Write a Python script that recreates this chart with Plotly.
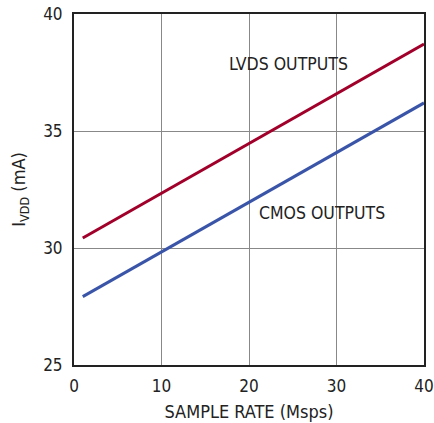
import plotly.graph_objects as go

sample_rate = [1, 40]
lvds_ivdd = [30.43, 38.72]
cmos_ivdd = [27.92, 36.2]

x_ticks = [0, 10, 20, 30, 40]
y_ticks = [25, 30, 35, 40]

FONT = "DejaVu Sans Condensed, Liberation Sans Narrow, Arial Narrow, sans-serif"

fig = go.Figure()
fig.add_trace(go.Scatter(x=sample_rate, y=lvds_ivdd, mode="lines",
                         line=dict(color="#a0002a", width=3), showlegend=False,
                         hoverinfo="skip"))
fig.add_trace(go.Scatter(x=sample_rate, y=cmos_ivdd, mode="lines",
                         line=dict(color="#3a55a8", width=3), showlegend=False,
                         hoverinfo="skip"))

fig.add_annotation(x=24.46, y=37.86, text="LVDS OUTPUTS", showarrow=False,
                   font=dict(size=17.5, color="#222"), xanchor="center", yanchor="middle")
fig.add_annotation(x=28.3, y=31.5, text="CMOS OUTPUTS", showarrow=False,
                   font=dict(size=17.5, color="#222"), xanchor="center", yanchor="middle")

fig.update_layout(
    width=434, height=423,
    margin=dict(l=74, r=10, t=14, b=58),
    plot_bgcolor="white", paper_bgcolor="white",
    font=dict(family=FONT, size=17, color="#222"),
    xaxis=dict(range=[0, 40], tickvals=x_ticks, showgrid=True, gridcolor="#888",
               gridwidth=1, zeroline=False, showline=True, linecolor="#222",
               linewidth=2, mirror=True, ticks="outside", ticklen=5,
               tickcolor="rgba(0,0,0,0)", automargin=False,
               ticklabeloverflow="allow",
               title=dict(text="SAMPLE RATE (Msps)", standoff=10,
                          font=dict(size=18))),
    yaxis=dict(range=[25, 40], tickvals=y_ticks, showgrid=True, gridcolor="#888",
               gridwidth=1, zeroline=False, showline=True, linecolor="#222",
               linewidth=2, mirror=True, ticks="outside", ticklen=6,
               tickcolor="rgba(0,0,0,0)", automargin=False,
               ticklabeloverflow="allow",
               title=dict(text="I<sub>VDD</sub> (mA)", standoff=13,
                          font=dict(size=18))),
)

# remove the default 8px page margin so the figure fills the window exactly
fig.write_html("out.html",
               config={"displayModeBar": False, "staticPlot": True},
               post_script="document.body.style.margin='0';document.body.style.overflow='hidden';")
